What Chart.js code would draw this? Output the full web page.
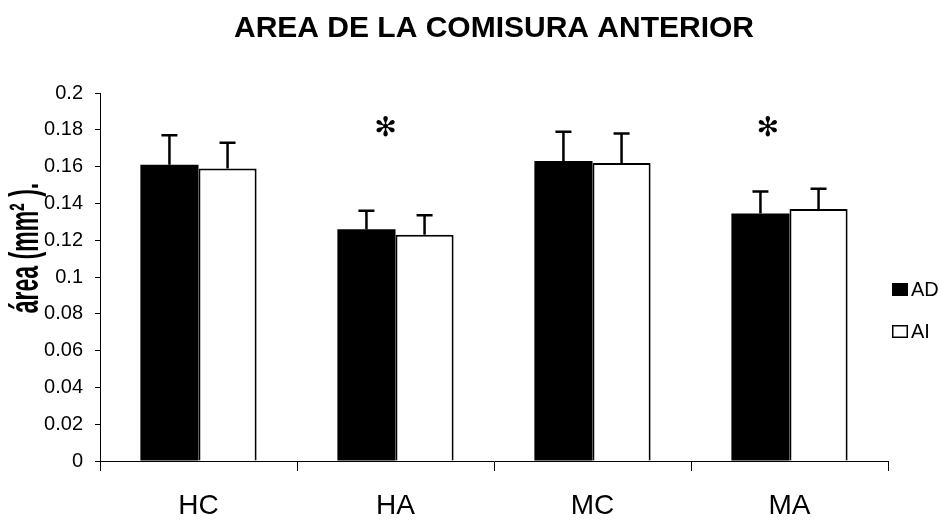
<!DOCTYPE html>
<html>
<head>
<meta charset="utf-8">
<script src="https://cdn.jsdelivr.net/npm/chart.js@4.4.1/dist/chart.umd.min.js"></script>
<style>
	html, body { margin: 0; padding: 0; background: #fff; }
	canvas { display: block; }
</style>
</head>
<body>
<canvas id="areaChart" width="941" height="521"></canvas>
<script>
	// Data
	var groups = ['HC', 'HA', 'MC', 'MA'];
	var adValues = [0.161, 0.126, 0.163, 0.1345];
	var adErrors = [0.016, 0.010, 0.016, 0.012];
	var aiValues = [0.159, 0.123, 0.162, 0.137];
	var aiErrors = [0.014, 0.0105, 0.016, 0.011];
	var yTickValues = [0, 0.02, 0.04, 0.06, 0.08, 0.1, 0.12, 0.14, 0.16, 0.18, 0.2];
	// Significance marks (category index, value)
	var starIndex = [0.95, 2.89];
	var starValue = [0.182, 0.182];

	Chart.defaults.font.family = '"Liberation Sans", Arial, sans-serif';
	Chart.defaults.color = '#000';

	/**
	 * Upper error bars on each bar
	 */
	var errorBarsPlugin = {
		id: 'errorBars',
		afterDatasetsDraw: function (chart) {
			var ctx = chart.ctx;
			var yScale = chart.scales.y;
			ctx.save();
			ctx.strokeStyle = '#000';
			ctx.lineWidth = 2.5;
			chart.data.datasets.forEach(function (ds, i) {
				var meta = chart.getDatasetMeta(i);
				meta.data.forEach(function (bar, j) {
					var top = yScale.getPixelForValue(ds.data[j] + ds.errors[j]);
					ctx.beginPath();
					ctx.moveTo(bar.x, bar.y);
					ctx.lineTo(bar.x, top);
					ctx.moveTo(bar.x - 8, top);
					ctx.lineTo(bar.x + 8, top);
					ctx.stroke();
				});
			});
			ctx.restore();
		}
	};

	/**
	 * Asterisks, y-axis title and legend drawn on top
	 */
	var extrasPlugin = {
		id: 'extras',
		afterDraw: function (chart) {
			var ctx = chart.ctx;
			var xScale = chart.scales.x, yScale = chart.scales.y;
			ctx.save();
			ctx.fillStyle = '#000';

			// asterisks
			ctx.font = '27px "DejaVu Sans", sans-serif';
			ctx.textAlign = 'center';
			ctx.textBaseline = 'alphabetic';
			var m = ctx.measureText('\u273B');
			var off = (m.actualBoundingBoxAscent - m.actualBoundingBoxDescent) / 2;
			starIndex.forEach(function (idx, k) {
				ctx.fillText('\u273B', xScale.getPixelForValue(idx), yScale.getPixelForValue(starValue[k]) + off);
			});

			// y-axis title (stretched like the original)
			ctx.save();
			ctx.translate(38, 248);
			ctx.rotate(-Math.PI / 2);
			ctx.scale(1, 1.75);
			ctx.font = 'bold 23px "Liberation Sans", Arial, sans-serif';
			ctx.textAlign = 'center';
			ctx.textBaseline = 'alphabetic';
			ctx.fillText('área (mm² ).', 0, 0);
			ctx.restore();

			// legend
			ctx.font = '20px "Liberation Sans", Arial, sans-serif';
			ctx.textAlign = 'left';
			ctx.textBaseline = 'middle';
			chart.data.datasets.forEach(function (ds, i) {
				var bx = 892, by = 283 + i * 42;
				ctx.fillStyle = ds.backgroundColor;
				ctx.fillRect(bx, by, 16, 13);
				ctx.strokeStyle = '#000';
				ctx.lineWidth = 1.5;
				ctx.strokeRect(bx + 0.75, by + 0.75, 14.5, 11.5);
				ctx.fillStyle = '#000';
				ctx.fillText(ds.label, bx + 19, by + 7);
			});
			ctx.restore();
		}
	};

	var chartConfig = {
		type: 'bar',
		data: {
			labels: groups,
			datasets: [
				{
					label: 'AD',
					data: adValues,
					errors: adErrors,
					backgroundColor: '#000',
					borderColor: '#000',
					borderWidth: 0
				},
				{
					label: 'AI',
					data: aiValues,
					errors: aiErrors,
					backgroundColor: '#fff',
					borderColor: '#000',
					borderWidth: 2
				}
			]
		},
		options: {
			responsive: false,
			animation: false,
			datasets: {
				bar: { categoryPercentage: 0.59, barPercentage: 1.0 }
			},
			layout: { padding: { left: 0, right: 53, top: 0, bottom: 0 } },
			plugins: {
				legend: { display: false },
				tooltip: { enabled: false },
				title: {
					display: true,
					fullSize: false,
					text: 'AREA DE LA COMISURA ANTERIOR',
					color: '#000',
					font: { size: 30, weight: 'bold' },
					padding: { top: 11, bottom: 46 }
				}
			},
			scales: {
				x: {
					grid: { display: true, drawOnChartArea: false, drawTicks: true, tickLength: 10, color: '#000', offset: true },
					border: { color: '#000', width: 1 },
					ticks: { font: { size: 28 }, color: '#000', padding: 18 },
					afterFit: function (scale) { scale.height = 60; }
				},
				y: {
					min: 0,
					max: 0.2,
					grid: { drawOnChartArea: false, drawTicks: true, tickLength: 5, color: '#000' },
					border: { color: '#000', width: 1 },
					ticks: {
						font: { size: 20 },
						color: '#000',
						padding: 12,
						callback: function (value) { return String(+value.toFixed(2)); }
					},
					afterBuildTicks: function (scale) {
						scale.ticks = yTickValues.map(function (v) { return { value: v }; });
					},
					afterFit: function (scale) { scale.width = 100; }
				}
			}
		},
		plugins: [errorBarsPlugin, extrasPlugin]
	};

	var areaChart = new Chart(document.getElementById('areaChart'), chartConfig);
</script>
</body>
</html>
